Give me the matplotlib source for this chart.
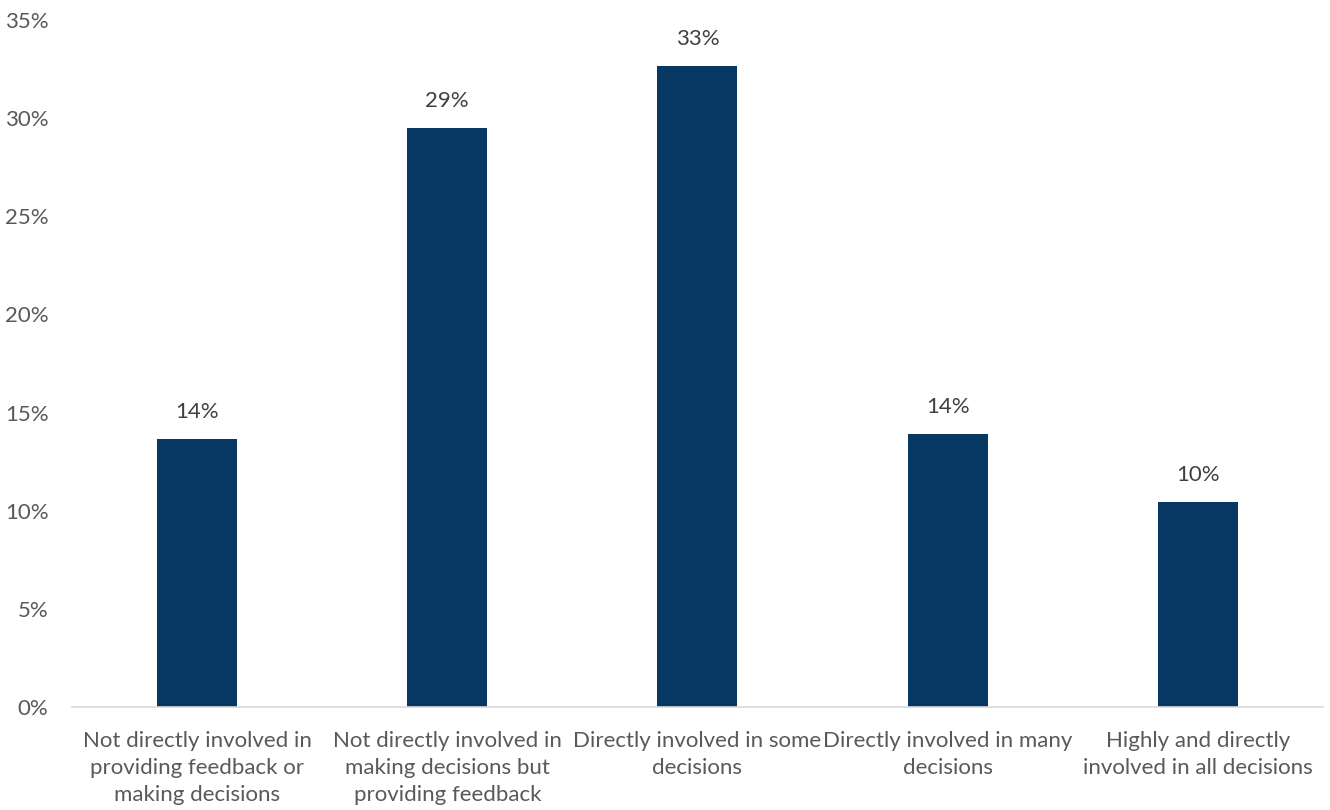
import matplotlib.pyplot as plt
from matplotlib.ticker import FuncFormatter

categories = [
    "Not directly involved in\nproviding feedback or\nmaking decisions",
    "Not directly involved in\nmaking decisions but\nproviding feedback",
    "Directly involved in some\ndecisions",
    "Directly involved in many\ndecisions",
    "Highly and directly\ninvolved in all decisions",
]
values = [13.65, 29.5, 32.65, 13.9, 10.45]
labels = ["14%", "29%", "33%", "14%", "10%"]

plt.rcParams['font.family'] = ['Lato', 'DejaVu Sans']

fig = plt.figure(figsize=(13.3, 8.1), dpi=100)
ax = fig.add_axes([0.0541, 0.1272, 0.9406, 0.8481])

x = range(len(values))
bars = ax.bar(x, values, width=0.32, color="#073763")

for b, lab in zip(bars, labels):
    ax.text(b.get_x() + b.get_width() / 2, b.get_height() + 0.85, lab,
            ha="center", va="bottom", fontsize=16, color="#404040")

ax.set_xlim(-0.5, 4.5)
ax.set_ylim(0, 35)
ax.set_yticks(range(0, 36, 5))
ax.yaxis.set_major_formatter(FuncFormatter(lambda v, p: f"{int(v)}%"))
ax.set_xticks(list(x))
ax.set_xticklabels(categories, fontsize=16, color="#595959", linespacing=1.45)
ax.tick_params(axis="y", length=0, labelsize=16, labelcolor="#595959", pad=17)
ax.tick_params(axis="x", length=0, pad=17)

for s in ["top", "right", "left"]:
    ax.spines[s].set_visible(False)
ax.spines["bottom"].set_color("#d9d9d9")
ax.spines["bottom"].set_linewidth(1.2)

fig.savefig("out.png", dpi=100)
